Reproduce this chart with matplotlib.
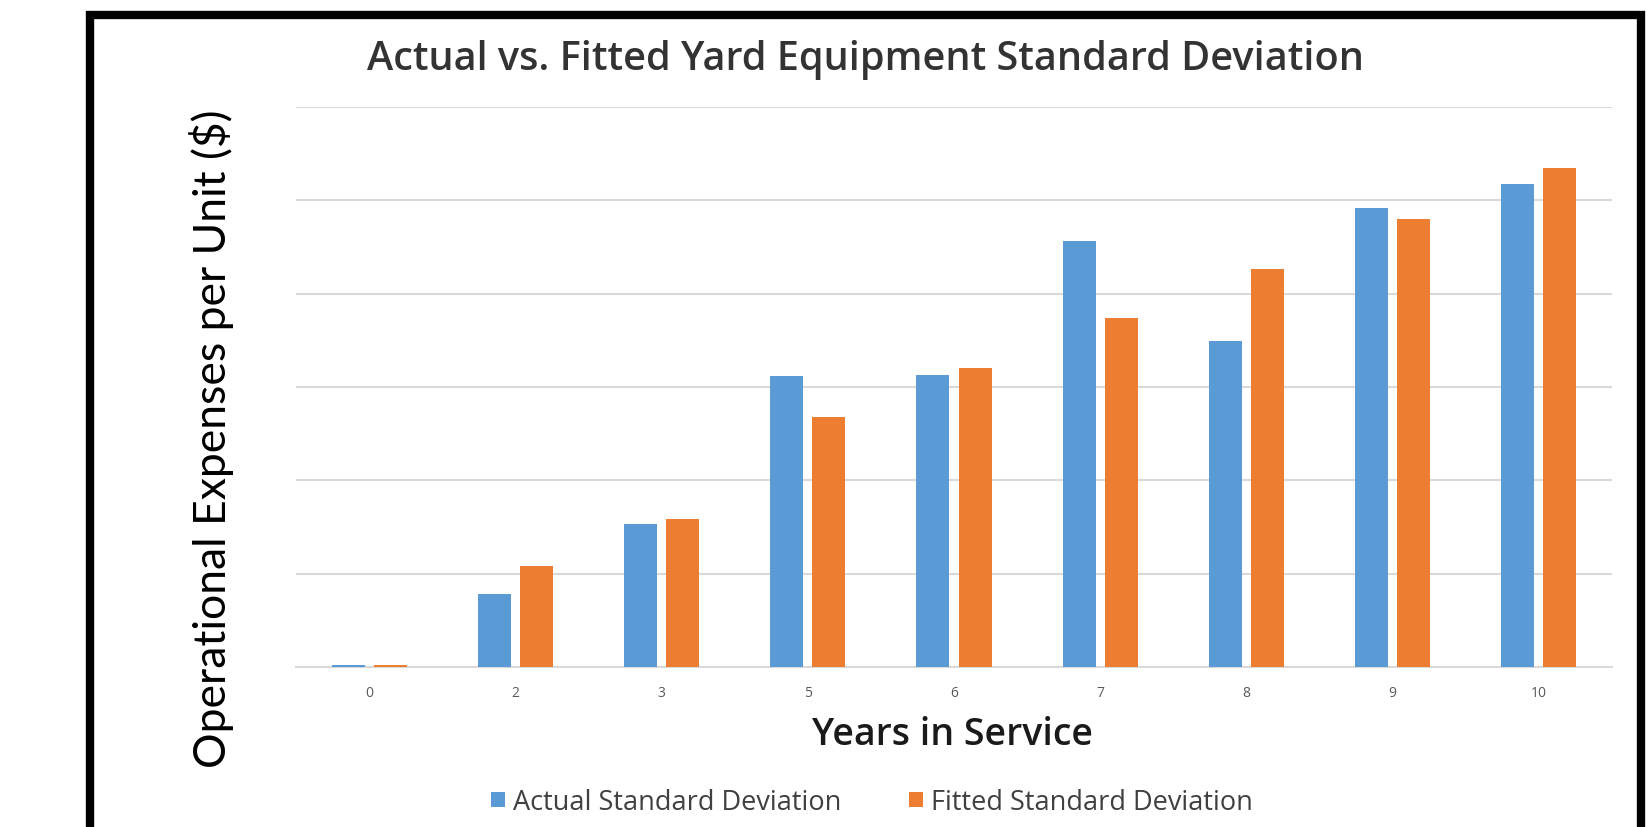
import numpy as np
import matplotlib
matplotlib.use("Agg")
import matplotlib.pyplot as plt
from matplotlib.patches import Patch, Rectangle

plt.rcParams['font.family'] = ['Open Sans', 'DejaVu Sans']

# Years in service (category axis) and the two standard deviation series
years = ['0', '2', '3', '5', '6', '7', '8', '9', '10']
actual_sd = [0.02, 0.78, 1.53, 3.12, 3.13, 4.56, 3.49, 4.92, 5.17]
fitted_sd = [0.02, 1.08, 1.59, 2.68, 3.20, 3.74, 4.26, 4.80, 5.35]

BLUE = '#5B9BD5'
ORANGE = '#ED7D31'
GRID = '#D9D9D9'

fig = plt.figure(figsize=(16.5, 8.28), dpi=100)
fig.patch.set_facecolor('white')

# black frame around the chart, open at the bottom edge
frame = Rectangle((90 / 1650, -0.05), (1641 - 90) / 1650, 1 - 16 / 828 + 0.05,
                  transform=fig.transFigure, fill=False, edgecolor='black',
                  linewidth=6, zorder=10)
fig.add_artist(frame)

ax = fig.add_axes([296 / 1650, 1 - 668 / 828, (1612 - 296) / 1650, (668 - 108) / 828])

x = np.arange(len(years))
w = 0.226
off = 0.144
ax.bar(x - off, actual_sd, width=w, color=BLUE, zorder=3)
ax.bar(x + off, fitted_sd, width=w, color=ORANGE, zorder=3)

ax.set_xlim(-0.5, len(years) - 0.5)
ax.set_ylim(0, 6)
ax.set_yticks(np.arange(0, 7, 1))
ax.yaxis.grid(True, color=GRID, linewidth=1.5, zorder=0)
ax.set_yticklabels([])
ax.tick_params(axis='y', length=0)

ax.set_xticks(x)
ax.set_xticklabels(years, fontsize=10, color='#595959')
ax.tick_params(axis='x', length=0, pad=13)

for s in ['top', 'right', 'left']:
    ax.spines[s].set_visible(False)
ax.spines['bottom'].set_color(GRID)
ax.spines['bottom'].set_linewidth(1.5)

fig.text(865 / 1650, 1 - 60 / 828, 'Actual vs. Fitted Yard Equipment Standard Deviation',
         ha='center', va='center', fontsize=28.5, fontweight='semibold', color='#333333')

fig.text(952 / 1650, 1 - 735 / 828, 'Years in Service',
         ha='center', va='center', fontsize=27, fontweight='semibold', color='#1a1a1a')

fig.text(212 / 1650, 1 - 439 / 828, 'Operational Expenses per Unit ($)',
         ha='center', va='center', rotation=90, fontsize=32, color='black',
         family=['Lato', 'DejaVu Sans'])

handles = [Patch(facecolor=BLUE, label='Actual Standard Deviation'),
           Patch(facecolor=ORANGE, label='Fitted Standard Deviation')]
fig.legend(handles=handles, loc='center', bbox_to_anchor=(872 / 1650, 1 - 803 / 828),
           ncol=2, frameon=False, fontsize=19.5, labelcolor='#404040',
           handlelength=0.52, handleheight=0.52, handletextpad=0.3,
           columnspacing=2.5)

fig.savefig('out.png', dpi=100, facecolor='white')
